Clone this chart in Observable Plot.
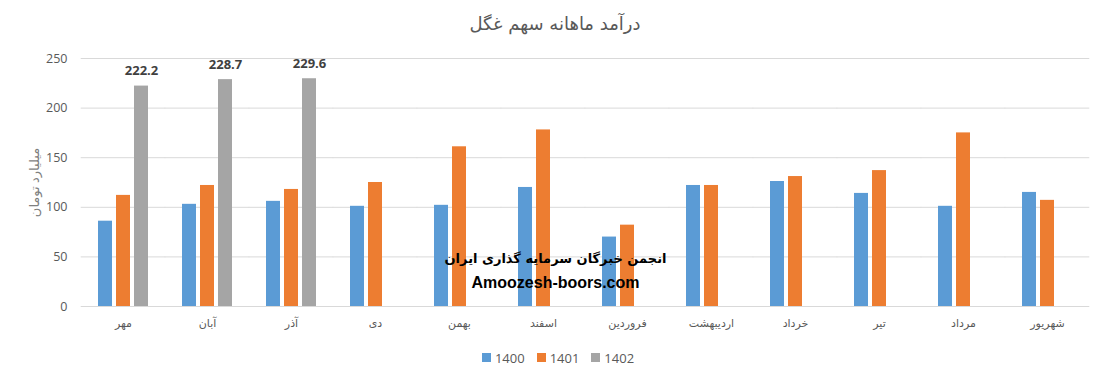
<!DOCTYPE html>
<html><head><meta charset="utf-8">
<script src="https://cdn.jsdelivr.net/npm/d3@7"></script>
<script src="https://cdn.jsdelivr.net/npm/@observablehq/plot@0.6"></script>
<style>
body{margin:0;background:#fff;font-family:"Open Sans","DejaVu Sans",sans-serif;}
#wrap{width:1100px;height:372px;position:relative;overflow:hidden;background:#fff}
#title{height:40px;line-height:48px;text-align:center;font-family:"DejaVu Sans",sans-serif;font-size:18px;color:#595959;padding-left:10px;box-sizing:border-box}
#chart svg{display:block}
#legend{height:32px;display:flex;justify-content:center;align-items:center;padding-left:16px;padding-top:3px;box-sizing:border-box}
.item{display:flex;align-items:center;margin:0 6px;font-size:13px;color:#595959;font-family:"Open Sans",sans-serif}
.sw{width:9px;height:9px;margin-right:4px}
</style></head>
<body><div id="wrap">
<div id="title" dir="rtl">درآمد ماهانه سهم غگل</div>
<div id="chart"></div>
<div id="legend"></div>
</div>
<script>
const months = ["مهر","آبان","آذر","دی","بهمن","اسفند","فروردین","اردیبهشت","خرداد","تیر","مرداد","شهریور"];
const years = ["1400","1401","1402"];
const v1400 = [86,103,106,101,102,120,70,122,126,114,101,115];
const v1401 = [112,122,118,125,161,178,82,122,131,137,175,107];
const v1402 = [222.2,228.7,229.6];
const colors = ["#5B9BD5","#ED7D31","#A5A5A5"];
const yTicks = [0,50,100,150,200,250];
const yLabel = "میلیارد تومان";
const watermark1 = "انجمن خبرگان سرمایه گذاری ایران";
const watermark2 = "Amoozesh-boors.com";

const series = [v1400, v1401, v1402];
const data = [];
series.forEach((vals, i) => vals.forEach((v, j) => data.push({month: months[j], year: years[i], value: v})));
const labelData = data.filter(d => d.year === "1402");

const W = 1100, ML = 80, MR = 10, PI = 0.38, PO = 0.19;
const step = (W - ML - MR) / (months.length - PI + 2 * PO);
const halfGap = step * PI / 2 + 0.3;

const chart = Plot.plot({
  width: W, height: 300,
  marginTop: 18, marginBottom: 34, marginLeft: ML, marginRight: MR,
  style: {background: "#fff", fontFamily: "'Open Sans','DejaVu Sans',sans-serif"},
  fx: {domain: months, paddingInner: PI, paddingOuter: PO},
  x: {domain: years, axis: null, paddingInner: 0.2, paddingOuter: 0},
  y: {domain: [0, 250], axis: null},
  color: {domain: years, range: colors},
  marks: [
    Plot.ruleY(yTicks, {stroke: "#d9d9d9", strokeWidth: 1, insetLeft: -halfGap, insetRight: -halfGap}),
    Plot.barY(data, {fx: "month", x: "year", y: "value", fill: "year"}),
    Plot.text(labelData, {fx: "month", x: "year", y: "value", text: d => d.value.toFixed(1), dy: -15, fontWeight: "bold", fontSize: 13, fill: "#404040"}),
    Plot.text([watermark1], {facet: "super", frameAnchor: "bottom", dx: -30, dy: -44, fontWeight: "bold", fontSize: 13, fill: "#000", fontFamily: "DejaVu Sans"}),
    Plot.text([watermark2], {facet: "super", frameAnchor: "bottom", dx: -30, dy: -19, fontWeight: "bold", fontSize: 16, fill: "#000", fontFamily: "Liberation Sans"}),
    Plot.axisY({ticks: yTicks, tickSize: 0, tickPadding: 30, fontSize: 12.5, color: "#595959", label: null}),
    Plot.axisY({ticks: [], tickSize: 0, fontSize: 13, color: "#7f7f7f", label: yLabel, labelAnchor: "center", labelArrow: "none", labelOffset: 68}),
    Plot.axisFx({anchor: "bottom", tickSize: 0, tickPadding: 13, fontSize: 11, color: "#595959", label: null, fontFamily: "DejaVu Sans"})
  ]
});
document.getElementById("chart").appendChild(chart);

const lg = document.getElementById("legend");
years.forEach((y, i) => {
  const it = document.createElement("div"); it.className = "item";
  const sw = document.createElement("div"); sw.className = "sw"; sw.style.background = colors[i];
  const t = document.createElement("span"); t.textContent = y;
  it.appendChild(sw); it.appendChild(t); lg.appendChild(it);
});
</script>
</body></html>
